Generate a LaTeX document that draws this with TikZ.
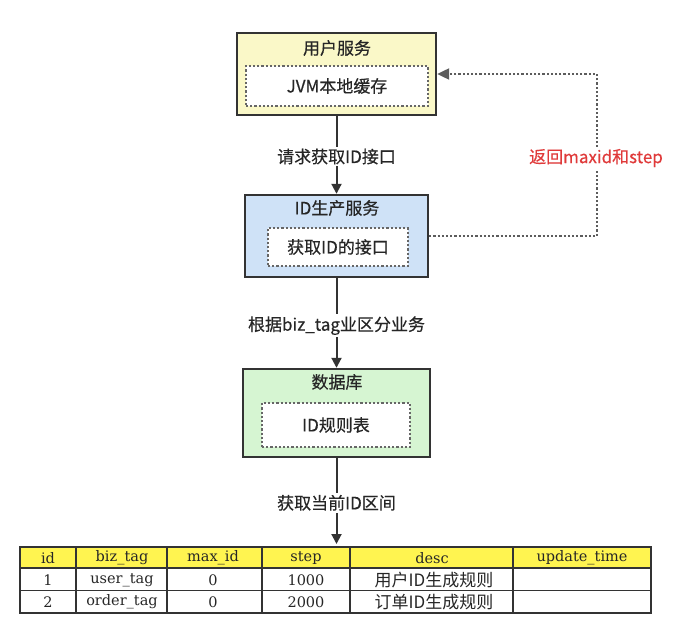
\documentclass[tikz,border=0pt]{standalone}
\usepackage{fontspec}
\setmainfont{DejaVu Serif}
\newfontfamily\cjk[FakeBold=0.4]{Noto Sans CJK SC}
\newfontfamily\cjkplain{Noto Sans CJK SC}
\usetikzlibrary{arrows.meta}
\definecolor{yelbox}{HTML}{FAF8C8}
\definecolor{bluebox}{HTML}{CFE2F7}
\definecolor{greenbox}{HTML}{D6F5D2}
\definecolor{hdr}{HTML}{FFF450}
\definecolor{edge}{HTML}{333333}
\definecolor{redlbl}{HTML}{E03A3A}
\tikzset{
  outerbox/.style={draw=edge, line width=2.4pt, rectangle, inner sep=0pt},
  innerbox/.style={draw=edge!75, line width=2.2pt, dotted, fill=white, rectangle, inner sep=0pt, font=\cjk\fontsize{17}{20}\selectfont, text=black!85},
  title/.style={font=\cjk\fontsize{17}{20}\selectfont, inner sep=0pt, text=black!85},
  flow/.style={draw=edge, line width=2pt, -{Triangle[length=10pt,width=10pt]}},
  lbl/.style={font=\cjk\fontsize{17}{20}\selectfont, fill=white, inner sep=2pt, text=black!85},
  ret/.style={draw=edge!80, line width=2.2pt, dotted, -{Triangle[length=12pt,width=11pt]}},
  cell/.style={font=\fontsize{14.5}{17}\selectfont, inner sep=0pt, text=black!85},
  cjkcell/.style={font=\cjkplain\fontsize{17}{19}\selectfont, inner sep=0pt, text=black!85},
  grid/.style={draw=edge, line width=1.1pt}
}
\begin{document}
\begin{tikzpicture}[x=1pt,y=-1pt]
\useasboundingbox (0,0) rectangle (673,626);
% user service
\node[outerbox, fill=yelbox, minimum width=199pt, minimum height=82pt] (usersvc) at (336.5,74) {};
\node[title] (usertitle) at (337,48) {用户服务};
\node[innerbox, minimum width=182pt, minimum height=40pt] (jvm) at (337,86) {JVM本地缓存};
% id service
\node[outerbox, fill=bluebox, minimum width=183pt, minimum height=82pt] (idsvc) at (336.5,236) {};
\node[title] (idtitle) at (337,208) {ID生产服务};
\node[innerbox, minimum width=140pt, minimum height=38pt] (idapi) at (338,247) {获取ID的接口};
% db
\node[outerbox, fill=greenbox, minimum width=187pt, minimum height=88pt] (db) at (336.5,413) {};
\node[title] (dbtitle) at (337,382) {数据库};
\node[innerbox, minimum width=148pt, minimum height=44pt] (rule) at (336,425) {ID规则表};
% table
\node[rectangle, inner sep=0pt, minimum width=631pt, minimum height=66pt] (tbl) at (335.5,580) {};
\fill[hdr] (20,547) rectangle (651,568);
\draw[grid] (20,547) rectangle (651,613);
\draw[grid] (20,568) -- (651,568);
\draw[grid] (20,590.5) -- (651,590.5);
\foreach \x in {76,167,262,350,513} \draw[grid] (\x,547) -- (\x,613);
\node[cell] (h1) at (48,558) {id};
\node[cell] (h2) at (122,558) {biz\_tag};
\node[cell] (h3) at (213,558) {max\_id};
\node[cell] (h4) at (306,558) {step};
\node[cell] (h5) at (432,558) {desc};
\node[cell] (h6) at (582,558) {update\_time};
\node[cell] (a1) at (48,580) {1};
\node[cell] (a2) at (122,580) {user\_tag};
\node[cell] (a3) at (213,580) {0};
\node[cell] (a4) at (306,580) {1000};
\node[cjkcell] (a5) at (434,580) {用户ID生成规则};
\node[cell] (b1) at (48,602) {2};
\node[cell] (b2) at (122,602) {order\_tag};
\node[cell] (b3) at (213,602) {0};
\node[cell] (b4) at (306,602) {2000};
\node[cjkcell] (b5) at (434,602) {订单ID生成规则};
% arrows
\draw[flow] (usersvc.south) -- (idsvc.north) node[lbl, pos=0.52] (l1) {请求获取ID接口};
\draw[flow] (idsvc.south) -- (db.north) node[lbl, pos=0.53] (l2) {根据biz\_tag业区分业务};
\coordinate (tbltop) at (336.5,544);
\draw[flow] (db.south) -- (tbltop) node[lbl, pos=0.52] (l3) {获取当前ID区间};
% return path
\coordinate (c1) at (597,236);
\coordinate (c2) at (597,74);
\draw[ret] (idsvc.east) -- (c1) -- (c2) -- (usersvc.east);
\node[lbl, text=redlbl] (retlbl) at (596,158) {返回maxid和step};
\end{tikzpicture}
\end{document}
